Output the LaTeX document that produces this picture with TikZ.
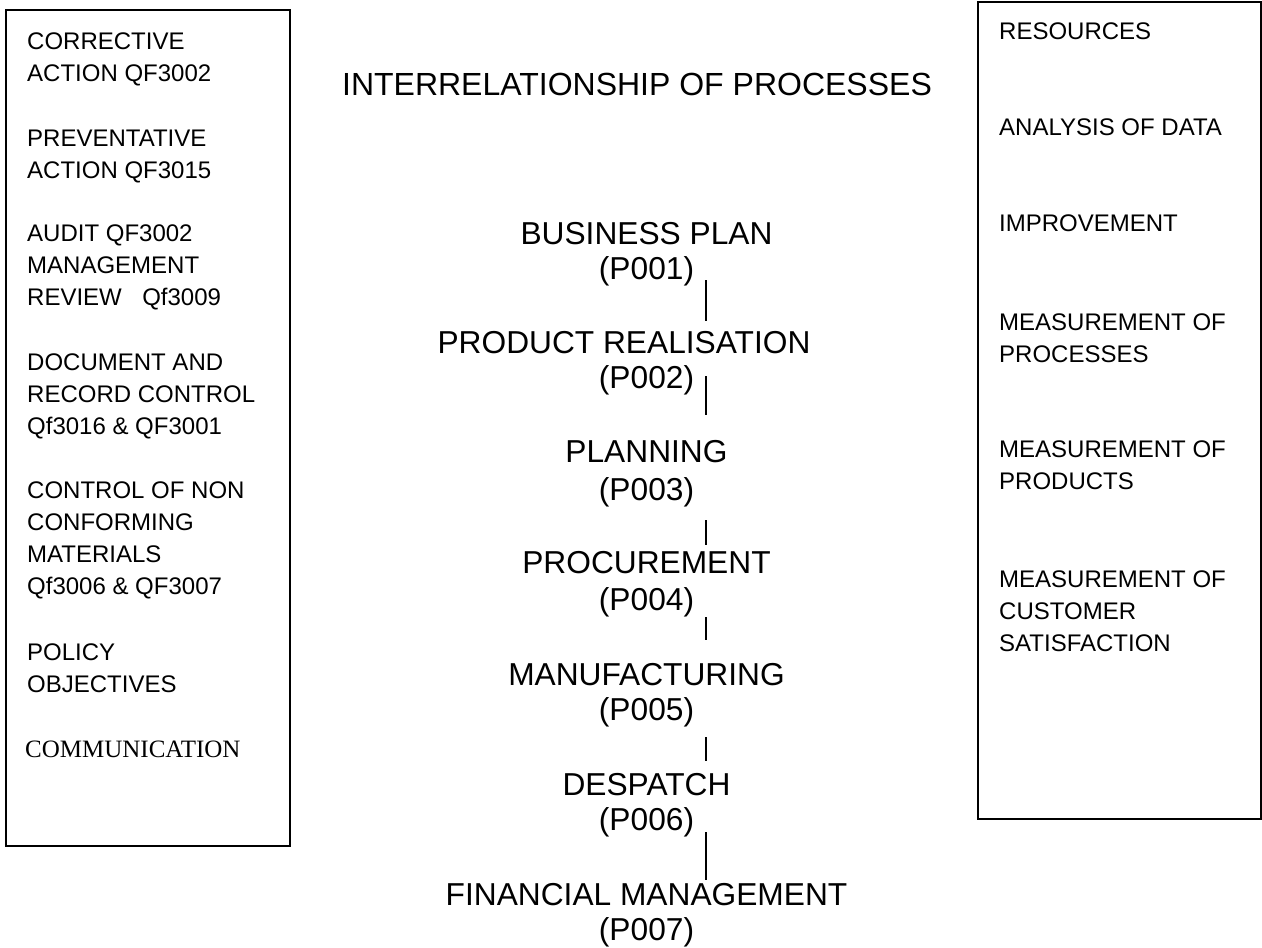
\documentclass[tikz,border=0pt]{standalone}
\usepackage{fontspec}
\setmainfont{Liberation Sans}
\newfontfamily\commfont{Liberation Serif}
\begin{document}
\begin{tikzpicture}[x=1pt,y=-1pt,
  boxframe/.style={draw=black, line width=1.5pt},
  sideitem/.style={anchor=base west, inner sep=0pt, font=\fontsize{24}{32}\selectfont},
  proc/.style={anchor=base, inner sep=0pt, font=\fontsize{31.7}{35}\selectfont},
  heading/.style={anchor=base, inner sep=0pt, font=\fontsize{32}{35}\selectfont},
  link/.style={draw=black, line width=1.2pt}]
\fill[white] (0,0) rectangle (1262,948);
\useasboundingbox (0,0) rectangle (1262,948);

% side boxes
\draw[boxframe] (6,10) rectangle (290,846);
\draw[boxframe] (978,2) rectangle (1261,819);

% left items
\node[sideitem] (corr) at (27,49) {\begin{tabular}[t]{@{}l@{}}CORRECTIVE\\ACTION QF3002\end{tabular}};
\node[sideitem] (prev) at (27,146) {\begin{tabular}[t]{@{}l@{}}PREVENTATIVE\\ACTION QF3015\end{tabular}};
\node[sideitem] (audit) at (27,241) {\begin{tabular}[t]{@{}l@{}}AUDIT QF3002\\MANAGEMENT\\REVIEW\hspace{0.85em}Qf3009\end{tabular}};
\node[sideitem] (doc) at (27,370) {\begin{tabular}[t]{@{}l@{}}DOCUMENT AND\\RECORD CONTROL\\Qf3016 \& QF3001\end{tabular}};
\node[sideitem] (ncm) at (27,498) {\begin{tabular}[t]{@{}l@{}}CONTROL OF NON\\CONFORMING\\MATERIALS\\Qf3006 \& QF3007\end{tabular}};
\node[sideitem] (pol) at (27,660) {\begin{tabular}[t]{@{}l@{}}POLICY\\OBJECTIVES\end{tabular}};
\node[sideitem, font=\commfont\fontsize{25}{32}\selectfont] (comm) at (25,757) {COMMUNICATION};

% right items
\node[sideitem] (res) at (999,39) {RESOURCES};
\node[sideitem] (ana) at (999,135) {ANALYSIS OF DATA};
\node[sideitem] (imp) at (999,231) {IMPROVEMENT};
\node[sideitem] (mproc) at (999,330) {\begin{tabular}[t]{@{}l@{}}MEASUREMENT OF\\PROCESSES\end{tabular}};
\node[sideitem] (mprod) at (999,457) {\begin{tabular}[t]{@{}l@{}}MEASUREMENT OF\\PRODUCTS\end{tabular}};
\node[sideitem] (mcust) at (999,587) {\begin{tabular}[t]{@{}l@{}}MEASUREMENT OF\\CUSTOMER\\SATISFACTION\end{tabular}};

% title
\node[heading] (title) at (637,95) {INTERRELATIONSHIP OF PROCESSES};

% process chain
\node[proc] (bp) at (646.5,244) {\begin{tabular}[t]{@{}c@{}}BUSINESS PLAN\\(P001)\end{tabular}};
\node[proc] (pr) at (646.5,353) {\begin{tabular}[t]{@{}c@{}}PRODUCT REALISATION\hspace*{45pt}\\(P002)\end{tabular}};
\node[proc] (pl) at (646.5,462) {\begin{tabular}[t]{@{}c@{}}PLANNING\\[3pt](P003)\end{tabular}};
\node[proc] (pc) at (646.5,573) {\begin{tabular}[t]{@{}c@{}}PROCUREMENT\\[2pt](P004)\end{tabular}};
\node[proc] (mf) at (646.5,685) {\begin{tabular}[t]{@{}c@{}}MANUFACTURING\\(P005)\end{tabular}};
\node[proc] (dp) at (646.5,795) {\begin{tabular}[t]{@{}c@{}}DESPATCH\\(P006)\end{tabular}};
\node[proc] (fm) at (646.5,905) {\begin{tabular}[t]{@{}c@{}}FINANCIAL MANAGEMENT\\(P007)\end{tabular}};

% connector end points
\coordinate (a1) at (706,280); \coordinate (b1) at (706,321);
\coordinate (a2) at (706,376); \coordinate (b2) at (706,415);
\coordinate (a3) at (706,520); \coordinate (b3) at (706,545);
\coordinate (a4) at (706,617); \coordinate (b4) at (706,640);
\coordinate (a5) at (706,737); \coordinate (b5) at (706,761);
\coordinate (a6) at (706,832); \coordinate (b6) at (706,880);
\draw[link] (a1) -- (b1);
\draw[link] (a2) -- (b2);
\draw[link] (a3) -- (b3);
\draw[link] (a4) -- (b4);
\draw[link] (a5) -- (b5);
\draw[link] (a6) -- (b6);
\end{tikzpicture}
\end{document}
